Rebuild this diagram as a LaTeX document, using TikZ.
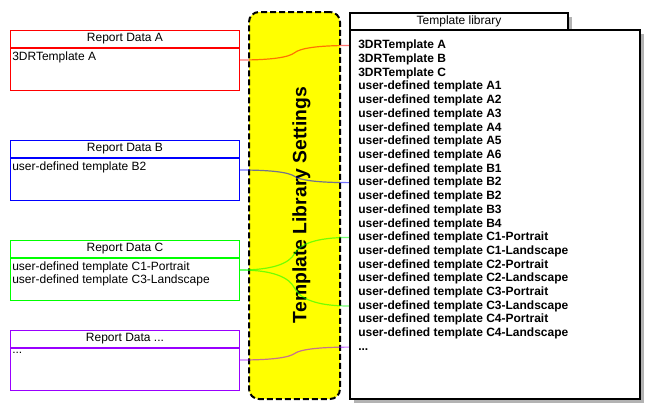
\documentclass[tikz,border=0pt]{standalone}
\usepackage{fontspec}
\setmainfont{Liberation Sans}
\usetikzlibrary{positioning, calc}
\definecolor{dataRed}{HTML}{FF0000}
\definecolor{dataBlue}{HTML}{0000FF}
\definecolor{dataGreen}{HTML}{00FF00}
\definecolor{dataPurple}{HTML}{9900FF}
\definecolor{settingYellow}{HTML}{FFFF00}
\definecolor{shadowGray}{HTML}{B3B3B3}
\def\px{0.75pt}
\newcommand{\DrawLink}[3]{
    \draw[link, #1] let \p1=(#2), \p2=(#3) in
        (#2) .. controls ({0.7*\x1+0.3*\x2},\y1) and ({0.55*\x1+0.45*\x2},{0.8*\y1+0.2*\y2})
        .. ({0.5*\x1+0.5*\x2},{0.5*\y1+0.5*\y2})
        .. controls ({0.45*\x1+0.55*\x2},{0.2*\y1+0.8*\y2}) and ({0.3*\x1+0.7*\x2},\y2) .. (#3);
}

\begin{document}
\begin{tikzpicture}[x=0.75pt, y=-0.75pt,
    hdr/.style={line width=1*\px, minimum width=229*\px, minimum height=17*\px, inner sep=0pt, font=\fontsize{9}{11}\selectfont},
    bodybox/.style={line width=1*\px, minimum width=229*\px, minimum height=42*\px, inner sep=0pt, anchor=north},
    bodytxt/.style={anchor=north west, inner sep=0pt, align=left, font=\fontsize{9}{9.75}\selectfont},
    libitem/.style={anchor=west, inner sep=0pt, text height=6.8pt, text depth=1.9pt, font=\bfseries\fontsize{9}{10}\selectfont},
    libbox/.style={draw=black, line width=2*\px, fill=white, inner sep=0pt},
    link/.style={line width=1.2*\px, draw opacity=0.55}
]
    \useasboundingbox (0,0) rectangle (668,419);

    % Settings column
    \node[draw=black, line width=2*\px, dash pattern=on 4.5pt off 2.25pt, fill=settingYellow, rounded corners=7.5pt,
        minimum width=91*\px, minimum height=387*\px] (settings) at (294.5,205.5) {};
    \node[rotate=90, font=\bfseries\fontsize{14.5}{17}\selectfont] (settingsTitle) at (301.5,205) {Template Library Settings};

    % Template library
    \fill[shadowGray] (354,17) rectangle (572,34);
    \node[libbox, minimum width=218*\px, minimum height=17*\px, font=\fontsize{9}{11}\selectfont] (libHdr) at (459,21.5) {Template library};
    \fill[shadowGray] (354,34) rectangle (644,403);
    \node[libbox, minimum width=290*\px, minimum height=369*\px] (library) at (495,214.5) {};
    \foreach \txt [count=\i from 0] in {3DRTemplate A, 3DRTemplate B, 3DRTemplate C,
        user-defined template A1, user-defined template A2, user-defined template A3,
        user-defined template A4, user-defined template A5, user-defined template A6,
        user-defined template B1, user-defined template B2, user-defined template B2,
        user-defined template B3, user-defined template B4,
        user-defined template C1-Portrait, user-defined template C1-Landscape,
        user-defined template C2-Portrait, user-defined template C2-Landscape,
        user-defined template C3-Portrait, user-defined template C3-Landscape,
        user-defined template C4-Portrait, user-defined template C4-Landscape}
        \node[libitem] (item\i) at (358,{45.5+\i*13.71}) {\txt};
    \node[libitem] (item22) at (358,{45.5+22*13.71}) {...};

    % Report data boxes
    \node[hdr, draw=dataRed] (hdrA) at (125,39) {Report Data A};
    \node[bodybox, draw=dataRed] (bodyA) at (hdrA.south) {};
    \node[bodytxt] (txtA) at ([xshift=2*\px, yshift=-4*\px]bodyA.north west) {3DRTemplate A};

    \node[hdr, draw=dataBlue] (hdrB) at (125,149) {Report Data B};
    \node[bodybox, draw=dataBlue] (bodyB) at (hdrB.south) {};
    \node[bodytxt] (txtB) at ([xshift=2*\px, yshift=-4*\px]bodyB.north west) {user-defined template B2};

    \node[hdr, draw=dataGreen] (hdrC) at (125,249) {Report Data C};
    \node[bodybox, draw=dataGreen] (bodyC) at (hdrC.south) {};
    \node[bodytxt] (txtC) at ([xshift=2*\px, yshift=-4*\px]bodyC.north west) {user-defined template C1-Portrait\\user-defined template C3-Landscape};

    \node[hdr, draw=dataPurple] (hdrD) at (125,339) {Report Data ...};
    \node[bodybox, draw=dataPurple] (bodyD) at (hdrD.south) {};
    \node[bodytxt] (txtD) at ([xshift=2*\px, yshift=-4*\px]bodyD.north west) {...};

    % Links
    \foreach \rep in {A,B,C,D}
        \coordinate (src\rep) at ([yshift=-12*\px]body\rep.north east);
    \foreach \i in {0,10,14,19,22}
        \coordinate (tgt\i) at (library.west |- item\i);
    \DrawLink{dataRed}{srcA}{tgt0}
    \DrawLink{dataBlue}{srcB}{tgt10}
    \DrawLink{dataGreen}{srcC}{tgt14}
    \DrawLink{dataGreen}{srcC}{tgt19}
    \DrawLink{dataPurple}{srcD}{tgt22}
\end{tikzpicture}
\end{document}
